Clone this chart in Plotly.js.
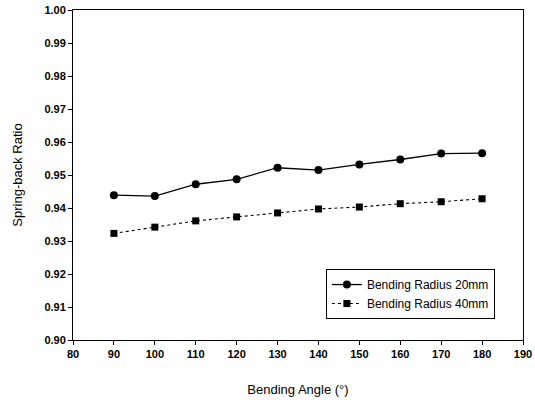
<!DOCTYPE html>
<html>
<head>
<meta charset="utf-8">
<script src="https://cdn.plot.ly/plotly-3.0.1.min.js"></script>
<style>html,body{margin:0;padding:0;background:#fff;}#chart{width:535px;height:403px;}</style>
</head>
<body>
<div id="chart"></div>
<script>
const angles = [90, 100, 110, 120, 130, 140, 150, 160, 170, 180];
const radius20 = [0.9439, 0.9436, 0.9472, 0.9487, 0.9522, 0.9515, 0.9532, 0.9547, 0.9565, 0.9566];
const radius40 = [0.9323, 0.9342, 0.9361, 0.9373, 0.9385, 0.9397, 0.9403, 0.9413, 0.9419, 0.9428];
const seriesNames = ['Bending Radius 20mm', 'Bending Radius 40mm'];
const xTicks = [80, 90, 100, 110, 120, 130, 140, 150, 160, 170, 180, 190];
const yTicks = [0.90, 0.91, 0.92, 0.93, 0.94, 0.95, 0.96, 0.97, 0.98, 0.99, 1.00];

const traces = [
  {x: angles, y: radius20, name: seriesNames[0], mode: 'lines+markers',
   line: {color: '#000', width: 1.3, dash: 'solid'},
   marker: {symbol: 'circle', size: 8, color: '#000'}},
  {x: angles, y: radius40, name: seriesNames[1], mode: 'lines+markers',
   line: {color: '#000', width: 1.1, dash: 'dot'},
   marker: {symbol: 'square', size: 7, color: '#000'}}
];
const tickFont = {family: 'Liberation Sans, Arial, sans-serif', size: 11, color: '#000', weight: 'bold'};
const layout = {
  width: 535, height: 403,
  margin: {l: 73, r: 12, t: 10, b: 63},
  paper_bgcolor: '#fff', plot_bgcolor: '#fff',
  showlegend: true,
  xaxis: {
    range: [80, 190], tickvals: xTicks, ticktext: xTicks.map(String),
    showgrid: false, zeroline: false, showline: true, mirror: true,
    linecolor: '#000', linewidth: 1, ticks: 'outside', ticklen: 4, tickcolor: '#000',
    tickfont: tickFont,
    title: {text: 'Bending Angle (°)', font: {family: 'Liberation Sans, Arial, sans-serif', size: 13, color: '#000'}, standoff: 25}
  },
  yaxis: {
    range: [0.90, 1.00], tickvals: yTicks, ticktext: yTicks.map(v => v.toFixed(2)),
    showgrid: false, zeroline: false, showline: true, mirror: true,
    linecolor: '#000', linewidth: 1, ticks: 'outside', ticklen: 4, tickcolor: '#000',
    tickfont: tickFont,
    title: {text: 'Spring-back Ratio', font: {family: 'Liberation Sans, Arial, sans-serif', size: 13, color: '#000'}, standoff: 18}
  },
  legend: {
    x: 0.562, y: 0.215, xanchor: 'left', yanchor: 'top',
    bgcolor: '#fff', bordercolor: '#000', borderwidth: 1,
    font: {family: 'Liberation Sans, Arial, sans-serif', size: 12, color: '#000'},
    itemwidth: 30, tracegroupgap: 0
  }
};
Plotly.newPlot('chart', traces, layout, {displayModeBar: false, staticPlot: true});
</script>
</body>
</html>
